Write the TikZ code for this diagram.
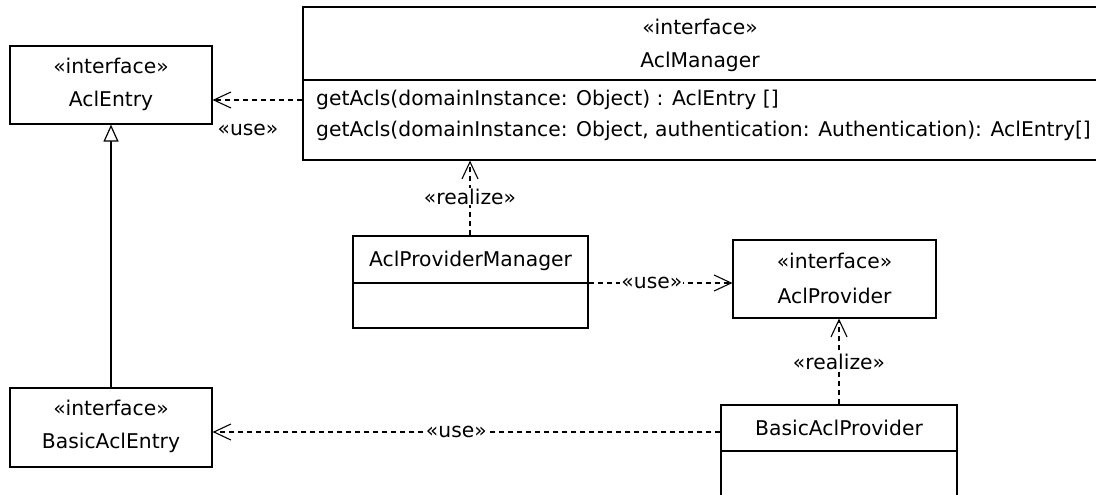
\documentclass[tikz,border=0pt]{standalone}
\usepackage{fontspec}
\setmainfont{DejaVu Sans}
\usetikzlibrary{arrows.meta}
\begin{document}
\begin{tikzpicture}[x=1pt,y=-1pt,
  box/.style={draw,line width=1.2pt,rectangle,inner sep=0pt},
  lbl/.style={font=\fontsize{20.3}{23}\selectfont,inner sep=1pt},
  dep/.style={line width=1.1pt,dash pattern=on 5pt off 4pt,-{Straight Barb[length=17pt,width=16pt,line width=1.1pt]}},
  gen/.style={line width=1.2pt,-{Triangle[open,length=17pt,width=15pt,fill=white,line width=1.2pt]}},
  tag/.style={font=\fontsize{20.3}{23}\selectfont,fill=white,inner sep=1pt}]
\clip (0,0) rectangle (1096,495);
\fill[white] (0,0) rectangle (1096,495);
% AclEntry
\node[box,minimum width=202pt,minimum height=78pt] (ae) at (111,85) {};
\node[lbl] (aet) at (111,66) {«interface»};
\node[lbl] (aen) at (111,101) {AclEntry};
% BasicAclEntry
\node[box,minimum width=202pt,minimum height=79pt] (bae) at (111,427.5) {};
\node[lbl] (baet) at (111,408) {«interface»};
\node[lbl] (baen) at (111,443) {BasicAclEntry};
% AclManager
\node[box,minimum width=797pt,minimum height=153pt] (am) at (701.5,83.5) {};
\draw[line width=1.2pt] (am.west |- 0,80) coordinate (amd) -- (am.east |- 0,80);
\node[lbl] (amt) at (700,27) {«interface»};
\node[lbl] (amn) at (700,62) {AclManager};
\node[lbl,anchor=west] (am1) at (315,100) {getAcls(domainInstance: Object) : AclEntry []};
\node[lbl,anchor=west] (am2) at (315,131) {getAcls(domainInstance: Object, authentication: Authentication): AclEntry[]};
% AclProviderManager
\node[box,minimum width=235pt,minimum height=92pt] (apm) at (470.5,282) {};
\draw[line width=1.2pt] (apm.west |- 0,283) -- (apm.east |- 0,283);
\node[lbl] (apmn) at (470.5,261) {AclProviderManager};
% AclProvider
\node[box,minimum width=203pt,minimum height=78pt] (ap) at (834.5,279) {};
\node[lbl] (apt) at (834.5,261) {«interface»};
\node[lbl] (apn) at (834.5,296) {AclProvider};
% BasicAclProvider
\node[box,minimum width=236pt,minimum height=110pt] (bap) at (839,460) {};
\draw[line width=1.2pt] (bap.west |- 0,451) -- (bap.east |- 0,451);
\node[lbl] (bapn) at (839,428) {BasicAclProvider};
% connectors
\draw[dep] (am.west |- 0,100) -- (ae.east |- 0,100);
\node[lbl] (u1) at (248,130) {«use»};
\draw[dep] (apm.north -| 470,0) -- (am.south -| 470,0) node[tag,pos=0.52] (r1) {«realize»};
\draw[dep] (apm.east |- 0,283) -- (ap.west |- 0,283) node[tag,pos=0.44] (u2) {«use»};
\draw[dep] (bap.north -| 839,0) -- (ap.south -| 839,0) node[tag,pos=0.5] (r2) {«realize»};
\draw[dep] (bap.west |- 0,432) -- (bae.east |- 0,432) node[tag,pos=0.52] (u3) {«use»};
\draw[gen] (bae.north) -- (ae.south);
\end{tikzpicture}
\end{document}
